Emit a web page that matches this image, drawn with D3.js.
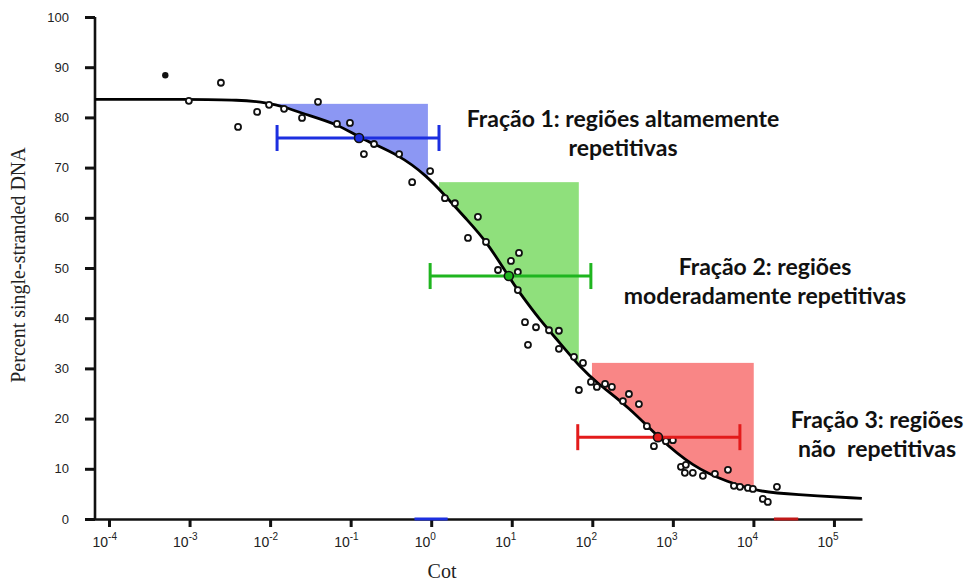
<!DOCTYPE html>
<html>
<head>
<meta charset="utf-8">
<script src="https://cdn.jsdelivr.net/npm/d3@7"></script>
<style>
  body { margin: 0; background: #fff; }
  .frac { font-family: Lato, "Open Sans", sans-serif; font-weight: bold; font-size: 23px; fill: #111; white-space: pre; }
  .tick text { font-family: "Liberation Sans", Arial, sans-serif; fill: #222; }
  .axlabel { font-family: "Liberation Serif", "Times New Roman", serif; font-size: 20px; fill: #222; }
</style>
</head>
<body>
<div id="main"></div>
<script>
'use strict'

// measured points (Cot, percent single-stranded)
const pointCot = [9.8e-4, 2.45e-3, 4.0e-3, 6.9e-3, 9.7e-3, 1.49e-2, 2.49e-2, 3.93e-2, 6.76e-2, 9.8e-2,
  0.195, 0.146, 0.40, 0.97, 0.58, 1.48, 1.97, 3.80, 2.86, 4.79,
  12.3, 9.77, 6.75, 11.9, 11.9, 14.6, 20.0, 29.0, 38.5, 15.9,
  38.5, 59.2, 76.6, 68.2, 96.2, 114, 144, 175, 240, 285,
  379, 476, 582, 820, 1000, 1260, 1450, 1410, 1770, 2360,
  3330, 4830, 5730, 6810, 8550, 9860, 13100, 15100, 19600];
const pointPct = [83.3, 86.9, 78.1, 81.1, 82.5, 81.7, 79.9, 83.1, 78.7, 78.9,
  74.7, 72.7, 72.7, 69.3, 67.1, 63.9, 62.9, 60.2, 56.0, 55.2,
  53.0, 51.4, 49.6, 49.2, 45.6, 39.2, 38.2, 37.6, 37.5, 34.7,
  33.9, 32.3, 31.1, 25.7, 27.3, 26.3, 26.9, 26.3, 23.5, 24.9,
  22.9, 18.5, 14.5, 15.5, 15.7, 10.4, 10.8, 9.2, 9.2, 8.6,
  9.0, 9.8, 6.6, 6.4, 6.2, 6.0, 4.0, 3.4, 6.4];
const filledCot = [5.0e-4];
const filledPct = [88.4];

// fitted reassociation curve
const curveCot = [6.7e-5, 1.0e-3, 4.2e-3, 9.7e-3, 1.49e-2, 2.5e-2, 7.4e-2, 0.127, 0.41, 0.91,
  1.40, 2.78, 4.92, 9.2, 12.6, 22.4, 39.6, 70, 114, 293,
  653, 1770, 4690, 12000, 31000, 222000];
const curvePct = [83.6, 83.6, 83.5, 82.9, 82.1, 80.8, 78.5, 75.9, 72.5, 68.1,
  64.9, 59.6, 55.2, 48.2, 45.0, 39.6, 35.1, 30.3, 27.1, 22.1,
  16.3, 10.4, 7.4, 5.4, 4.9, 4.1];

// fractions: shaded zone and error bar
const fracFrom = [0.008, 1.25, 99];
const fracTo = [0.91, 68, 10100];
const fracTop = [82.7, 67.1, 31.1];
const barLow = [0.0122, 0.97, 66];
const barHigh = [1.25, 96, 6800];
const barMid = [0.127, 9.2, 653];
const barPct = [75.9, 48.4, 16.3];
const fracText = [
  ["Fração 1: regiões altamemente", "repetitivas"],
  ["Fração 2: regiões", "moderadamente repetitivas"],
  ["Fração 3: regiões", "não  repetitivas"]
];
const fillColors = ["#8c97f3", "#8fe07c", "#f98686"];
const barColors = ["#1c2fe0", "#1fb51f", "#e31b1b"];
// short coloured marks lying on the x axis
const axisMarkFrom = [0.62, 18000];
const axisMarkTo = [1.6, 36000];
const axisMarkColors = ["#1c2fe0", "#c01818"];

const yTicks = [0, 10, 20, 30, 40, 50, 60, 70, 80, 90, 100];
const xTicks = [1e-4, 1e-3, 1e-2, 1e-1, 1e0, 1e1, 1e2, 1e3, 1e4, 1e5];
const xExponents = ["-4", "-3", "-2", "-1", "0", "1", "2", "3", "4", "5"];

document.addEventListener('DOMContentLoaded', function(){
  drawChart();
});

function drawChart(){
  let svgWidth = 970;
  let svgHeight = 584;

  let svg = d3.select('#main')
    .append('svg')
    .attr('width', svgWidth)
    .attr('height', svgHeight);

  let xScale = d3.scaleLog()
    .domain([5.18e-5, 2.23e5])
    .range([86, 862]);
  let yScale = d3.scaleLinear()
    .domain([0, 100])
    .range([519, 17]);

  let curveData = curveCot.map((c, i) => [c, curvePct[i]]);

  // area above the curve, used to clip the shaded fractions
  let aboveCurve = d3.area()
    .x(d => xScale(d[0]))
    .y0(yScale(100))
    .y1(d => yScale(d[1]))
    .curve(d3.curveBasis);

  svg.append("clipPath")
    .attr("id", "above")
    .append("path")
    .attr("d", aboveCurve(curveData));

  svg.append("g")
    .attr("clip-path", "url(#above)")
    .selectAll("rect")
    .data(fracFrom)
    .enter()
    .append("rect")
    .attr("x", (d, i) => xScale(d))
    .attr("y", (d, i) => yScale(fracTop[i]))
    .attr("width", (d, i) => xScale(fracTo[i]) - xScale(d))
    .attr("height", (d, i) => yScale(0) - yScale(fracTop[i]))
    .attr("fill", (d, i) => fillColors[i]);

  //Draw the axes
  const yAxis = d3.axisLeft(yScale)
    .tickValues(yTicks)
    .tickSize(10)
    .tickSizeOuter(0)
    .tickPadding(16);
  let gy = svg.append("g")
    .attr("transform", "translate(95, 0)")
    .call(yAxis);
  gy.select(".domain").remove();
  gy.selectAll(".tick line").attr("stroke", "#111").attr("stroke-width", 3);
  gy.selectAll(".tick text").attr("font-size", 13);
  gy.append("line")
    .attr("x1", 0).attr("x2", 0)
    .attr("y1", yScale(100)).attr("y2", yScale(0))
    .attr("stroke", "#111")
    .attr("stroke-width", 2.6);

  const xAxis = d3.axisBottom(xScale)
    .tickValues(xTicks)
    .tickSize(8)
    .tickSizeOuter(0)
    .tickFormat("");
  let gx = svg.append("g")
    .attr("transform", "translate(0, 519)")
    .call(xAxis);
  gx.select(".domain").attr("stroke", "#111").attr("stroke-width", 2.4);
  gx.selectAll(".tick line").attr("stroke", "#111").attr("stroke-width", 3);
  gx.selectAll(".tick").each(function(d, i){
    let t = d3.select(this).select("text")
      .attr("x", -17)
      .attr("y", 28)
      .attr("dy", 0)
      .attr("text-anchor", "start")
      .attr("font-size", 14);
    t.append("tspan").text("10");
    t.append("tspan")
      .attr("dy", -7)
      .attr("font-size", 10)
      .text(xExponents[i]);
  });

  svg.selectAll(".axismark")
    .data(axisMarkFrom)
    .enter()
    .append("line")
    .attr("class", "axismark")
    .attr("x1", d => xScale(d))
    .attr("x2", (d, i) => xScale(axisMarkTo[i]))
    .attr("y1", yScale(0))
    .attr("y2", yScale(0))
    .attr("stroke", (d, i) => axisMarkColors[i])
    .attr("stroke-width", 3);

  //Axis titles
  svg.append("text")
    .attr("class", "axlabel")
    .attr("transform", "translate(25, 265) rotate(-90)")
    .attr("text-anchor", "middle")
    .attr("font-size", 21)
    .text("Percent single-stranded DNA");
  svg.append("text")
    .attr("class", "axlabel")
    .attr("x", 442)
    .attr("y", 578)
    .attr("text-anchor", "middle")
    .text("Cot");

  //Curve
  let line = d3.line()
    .x(d => xScale(d[0]))
    .y(d => yScale(d[1]))
    .curve(d3.curveBasis);
  svg.append("path")
    .attr("d", line(curveData))
    .attr("fill", "none")
    .attr("stroke", "#000")
    .attr("stroke-width", 2.8);

  //Data points
  svg.selectAll(".dot")
    .data(pointCot)
    .enter()
    .append("circle")
    .attr("class", "dot")
    .attr("cx", d => xScale(d))
    .attr("cy", (d, i) => yScale(pointPct[i]))
    .attr("r", 3)
    .attr("fill", "#fff")
    .attr("stroke", "#111")
    .attr("stroke-width", 1.8);
  svg.selectAll(".filled")
    .data(filledCot)
    .enter()
    .append("circle")
    .attr("class", "filled")
    .attr("cx", d => xScale(d))
    .attr("cy", (d, i) => yScale(filledPct[i]))
    .attr("r", 3.2)
    .attr("fill", "#111");

  //Error bars
  let bars = svg.selectAll(".bar")
    .data(barLow)
    .enter()
    .append("g")
    .attr("class", "bar")
    .attr("stroke", (d, i) => barColors[i])
    .attr("stroke-width", 3);
  bars.append("line")
    .attr("x1", d => xScale(d))
    .attr("x2", (d, i) => xScale(barHigh[i]))
    .attr("y1", (d, i) => yScale(barPct[i]))
    .attr("y2", (d, i) => yScale(barPct[i]));
  bars.append("line")
    .attr("x1", d => xScale(d))
    .attr("x2", d => xScale(d))
    .attr("y1", (d, i) => yScale(barPct[i]) - 13)
    .attr("y2", (d, i) => yScale(barPct[i]) + 13);
  bars.append("line")
    .attr("x1", (d, i) => xScale(barHigh[i]))
    .attr("x2", (d, i) => xScale(barHigh[i]))
    .attr("y1", (d, i) => yScale(barPct[i]) - 13)
    .attr("y2", (d, i) => yScale(barPct[i]) + 13);
  bars.append("circle")
    .attr("cx", (d, i) => xScale(barMid[i]))
    .attr("cy", (d, i) => yScale(barPct[i]))
    .attr("r", 4.5)
    .attr("fill", (d, i) => barColors[i])
    .attr("stroke", "#111")
    .attr("stroke-width", 1.6);

  //Fraction labels
  let labelX = [623, 765, 877];
  let labelY = [127, 275, 428];
  fracText.forEach((lines, i) => {
    let t = svg.append("text")
      .attr("class", "frac")
      .attr("text-anchor", "middle");
    lines.forEach((s, j) => {
      t.append("tspan")
        .attr("x", labelX[i])
        .attr("y", labelY[i] + j * 28.5)
        .text(s);
    });
  });
}
</script>
</body>
</html>
